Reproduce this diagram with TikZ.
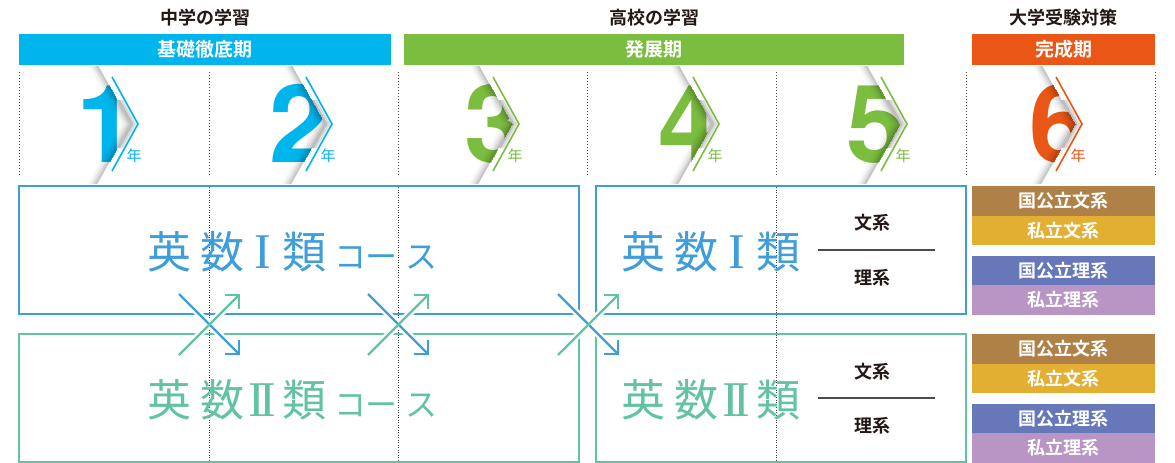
\documentclass[tikz,border=0pt]{standalone}
\usepackage{fontspec}
\setmainfont{TeX Gyre Heros}
\newfontfamily\jp{Noto Sans CJK JP}
\newfontfamily\jpb{Noto Sans CJK JP Bold}
\newfontfamily\romn{Liberation Serif}
\usetikzlibrary{arrows.meta}
\definecolor{cCyan}{HTML}{00B4EC}
\definecolor{cGreen}{HTML}{7BBD3F}
\definecolor{cOrange}{HTML}{EA5616}
\definecolor{cBlue}{HTML}{3F9DDA}
\definecolor{cTeal}{HTML}{62C2A4}
\definecolor{cBrown}{HTML}{B08146}
\definecolor{cGold}{HTML}{E2AF33}
\definecolor{cIndigo}{HTML}{6677BA}
\definecolor{cLav}{HTML}{B995C6}
\definecolor{cDark}{HTML}{231815}
\tikzset{
  ttl/.style={inner sep=0, text=cDark, font=\jpb\fontsize{18}{18}\selectfont},
  bar/.style={fill=#1, text=white, inner sep=0, minimum height=31pt, font=\jpb\fontsize{19}{19}\selectfont},
  dotline/.style={line width=1pt, gray!60!black, dash pattern=on 1pt off 2pt},
  dotin/.style={line width=0.8pt, black!75, dash pattern=on 0.8pt off 1.7pt},
  digit/.style={anchor=base, inner sep=0, font=\bfseries\fontsize{108}{108}\selectfont},
  chev/.style={line width=1.6pt, miter limit=10},
  nen/.style={inner sep=0, font=\jp\fontsize{15}{15}\selectfont},
  bigbox/.style={draw=#1, line width=2pt, inner sep=0},
  kj/.style={anchor=base, inner sep=0, font=\jp\fontsize{44}{44}\selectfont},
  rn/.style={anchor=base, inner sep=0, font=\romn\fontsize{50}{50}\selectfont},
  kn/.style={anchor=base, inner sep=0, font=\jp\fontsize{32}{32}\selectfont},
  kei/.style={inner sep=0, text=cDark, font=\jpb\fontsize{18}{18}\selectfont},
  sep/.style={line width=1.5pt, black!70},
  rb/.style={fill=#1, text=white, inner sep=0, minimum width=183pt, minimum height=29.5pt, font=\jpb\fontsize{18}{18}\selectfont},
  halo/.style={white, line width=7pt},
  arrB/.style={cBlue, line width=2.2pt, -{Straight Barb[angle=90:14pt]}},
  arrG/.style={cTeal, line width=2.2pt, -{Straight Barb[angle=90:14pt]}},
}
% #1 id, #2 chevron top x, #3 digit, #4 colour, #5 digit centre x
\newcommand\yearmark[5]{%
  \begin{scope}
    \clip ({#2-80},60) -- ({#2-17},60) -- ({#2+19},124) -- ({#2-17},188) -- ({#2-80},188) -- cycle;
    \node[digit, text=#4] (d#1) at (#5,162) {#3};
  \end{scope}
  \foreach \k/\op in {0/0.22,1/0.15,2/0.09,3/0.05,4/0.02} {
    \fill[black, opacity=\op] ({#2-13.6-2*\k-2},66) -- ({#2-13.6-2*\k},66) -- ({#2+19-2*\k},124)
      -- ({#2-14.7-2*\k},184) -- ({#2-14.7-2*\k-2},184) -- ({#2+19-2*\k-2},124) -- cycle;
  }
  \foreach \k/\op in {0/0.25,1/0.14,2/0.06} {
    \fill[black, opacity=\op] ({#2+5.5+2.4*\k},100) -- ({#2+19+2.4*\k},124) -- ({#2+5.5+2.4*\k},148)
      -- ({#2+5.5+2.4*\k+2.4},148) -- ({#2+19+2.4*\k+2.4},124) -- ({#2+5.5+2.4*\k+2.4},100) -- cycle;
  }
  \coordinate (ct#1) at (#2,77);
  \coordinate (ca#1) at ({#2+26},124);
  \coordinate (cb#1) at (#2,171);
  \draw[chev, draw=#4] (ct#1) -- (ca#1) -- (cb#1);
  \node[nen, text=#4] (n#1) at ({#2+22},156) {年};
}
\begin{document}
\begin{tikzpicture}[x=1pt, y=-1pt]
\fill[white] (0,0) rectangle (1175,463);
\useasboundingbox (0,0) rectangle (1175,463);

% titles and bars
\node[ttl] (t1) at (205,18) {中学の学習};
\node[ttl] (t2) at (654,18) {高校の学習};
\node[ttl] (t3) at (1063.5,18) {大学受験対策};
\node[bar=cCyan, minimum width=372pt] (b1) at (205,49.5) {基礎徹底期};
\node[bar=cGreen, minimum width=500pt] (b2) at (654,49.5) {発展期};
\node[bar=cOrange, minimum width=183pt] (b3) at (1063.5,49.5) {完成期};

% dotted column lines
\foreach \x in {19,209,398,587,776,966,1155} \draw[dotline] (\x,72) -- (\x,176);
\foreach \x in {209,398,776} \draw[dotin] (\x,187) -- (\x,461);

% year marks
\yearmark{1}{112}{1}{cCyan}{107}
\yearmark{2}{306}{2}{cCyan}{300}
\yearmark{3}{493}{3}{cGreen}{495}
\yearmark{4}{693}{4}{cGreen}{689}
\yearmark{5}{881}{5}{cGreen}{877}
\yearmark{6}{1056}{6}{cOrange}{1060}

% course boxes
\node[bigbox=cBlue, minimum width=560pt, minimum height=128pt] (L1) at (299,250) {};
\node[bigbox=cTeal, minimum width=560pt, minimum height=128pt] (L2) at (299,398) {};
\node[bigbox=cBlue, minimum width=370pt, minimum height=128pt] (R1) at (781,250) {};
\node[bigbox=cTeal, minimum width=370pt, minimum height=128pt] (R2) at (781,398) {};

% course names (left)
\node[kj, text=cBlue] (a1) at (169,268) {英};
\node[kj, text=cBlue] (a2) at (222,268) {数};
\node[rn, text=cBlue] (a3) at (263,268) {I};
\node[kj, text=cBlue] (a4) at (304,268) {類};
\node[kn, text=cBlue] (a5) at (350,268) {コ};
\node[kn, text=cBlue] (a6) at (381,268) {ー};
\node[kn, text=cBlue] (a7) at (421,268) {ス};
\node[kj, text=cTeal] (e1) at (169,416) {英};
\node[kj, text=cTeal] (e2) at (222,416) {数};
\node[rn, text=cTeal] (e3) at (262,416) {I\kern-6ptI};
\node[kj, text=cTeal] (e4) at (304,416) {類};
\node[kn, text=cTeal] (e5) at (350,416) {コ};
\node[kn, text=cTeal] (e6) at (381,416) {ー};
\node[kn, text=cTeal] (e7) at (421,416) {ス};

% course names (right)
\node[kj, text=cBlue] (f1) at (643,268) {英};
\node[kj, text=cBlue] (f2) at (696,268) {数};
\node[rn, text=cBlue] (f3) at (737,268) {I};
\node[kj, text=cBlue] (f4) at (778,268) {類};
\node[kj, text=cTeal] (g1) at (643,416) {英};
\node[kj, text=cTeal] (g2) at (696,416) {数};
\node[rn, text=cTeal] (g3) at (736,416) {I\kern-6ptI};
\node[kj, text=cTeal] (g4) at (778,416) {類};

\node[kei] (w1) at (872,223) {文系};
\node[kei] (s1) at (872,278) {理系};
\coordinate (ln1a) at (818,250); \coordinate (ln1b) at (935,250);
\draw[sep] (ln1a) -- (ln1b);
\node[kei] (w2) at (872,372) {文系};
\node[kei] (s2) at (872,426) {理系};
\coordinate (ln2a) at (818,398); \coordinate (ln2b) at (935,398);
\draw[sep] (ln2a) -- (ln2b);

% university targets
\node[rb=cBrown]  (u1) at (1063.5,200.75) {国公立文系};
\node[rb=cGold]   (u2) at (1063.5,230.25) {私立文系};
\node[rb=cIndigo] (u3) at (1063.5,270.25) {国公立理系};
\node[rb=cLav]    (u4) at (1063.5,299.75) {私立理系};
\node[rb=cBrown]  (u5) at (1063.5,348.75) {国公立文系};
\node[rb=cGold]   (u6) at (1063.5,378.25) {私立文系};
\node[rb=cIndigo] (u7) at (1063.5,418.25) {国公立理系};
\node[rb=cLav]    (u8) at (1063.5,447.75) {私立理系};

% crossing arrows
\foreach \i/\cx in {1/209,2/398,3/588} {
  \coordinate (xa\i) at ({\cx-30},294);
  \coordinate (xb\i) at ({\cx+31},355);
  \coordinate (xc\i) at ({\cx-30},355);
  \coordinate (xd\i) at ({\cx+31},294);
  \draw[halo] (xa\i) -- (xb\i);
  \draw[halo] (xc\i) -- (xd\i);
  \draw[arrB] (xa\i) -- (xb\i);
  \draw[arrG] (xc\i) -- (xd\i);
}
\end{tikzpicture}
\end{document}
